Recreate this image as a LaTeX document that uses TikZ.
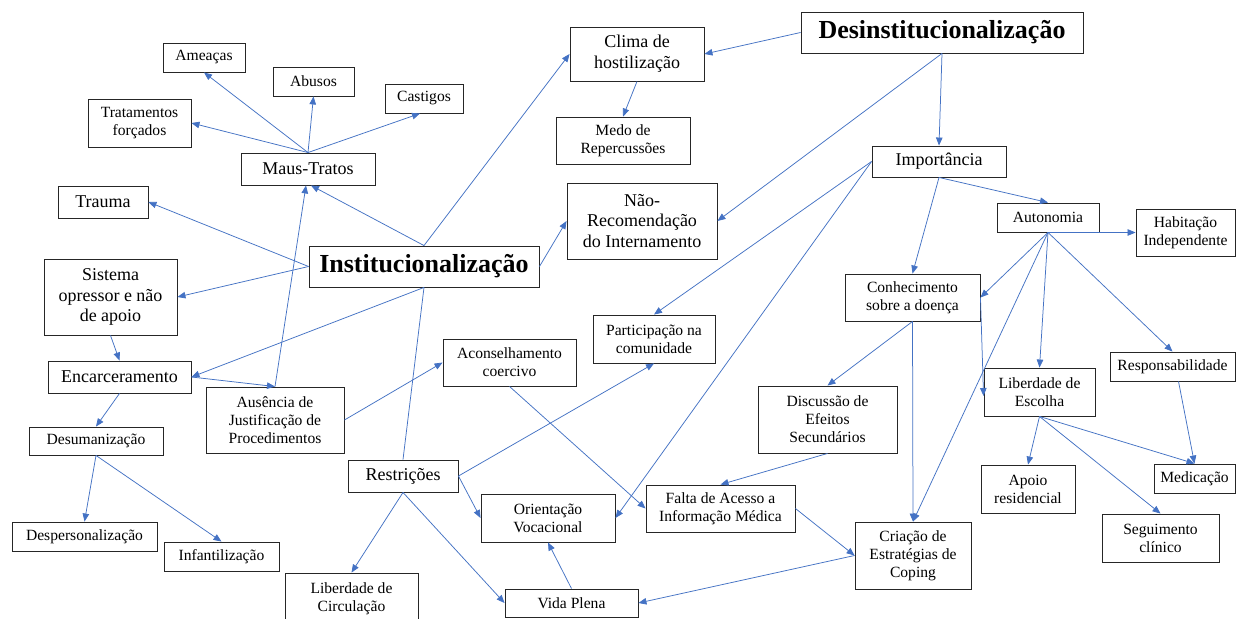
\documentclass[tikz,border=0pt]{standalone}
\usepackage{fontspec}
\setmainfont{Liberation Serif}
\usetikzlibrary{arrows.meta}
\definecolor{linkblue}{RGB}{68,114,196}
\tikzset{
  box/.style={draw=black!85, line width=0.9pt, fill=white, align=center, inner sep=2pt},
  small/.style={box, font=\fontsize{15.6}{18}\selectfont},
  medium/.style={box, font=\fontsize{18}{20.7}\selectfont},
  title/.style={box, font=\fontsize{26}{30}\selectfont\bfseries},
  link/.style={draw=linkblue, line width=0.75pt, -{Triangle[length=8pt,width=6.5pt]}},
}

\begin{document}
\begin{tikzpicture}[x=1pt, y=-1pt]
  \useasboundingbox[fill=white] (0,0) rectangle (1236,618);

  % left side: institucionalizacao
  \node[small, minimum width=82pt, minimum height=29pt] (ameacas) at (204,57.5) {Ameaças};
  \node[small, minimum width=81pt, minimum height=29pt] (abusos) at (313.5,81.5) {Abusos};
  \node[small, minimum width=78pt, minimum height=29pt] (castigos) at (424,98.5) {Castigos};
  \node[small, minimum width=103pt, minimum height=48pt] (tratamentos) at (139.5,123) {Tratamentos\\forçados};
  \node[medium, minimum width=134pt, minimum height=32pt] (maus) at (308,169) {Maus-Tratos};
  \node[medium, minimum width=90pt, minimum height=32pt] (trauma) at (103,202) {Trauma};
  \node[title, minimum width=230pt, minimum height=41pt] (inst) at (424,266.5) {Institucionalização};
  \node[medium, minimum width=133pt, minimum height=76pt] (sistema) at (110.5,297) {Sistema\\opressor e não\\de apoio};
  \node[medium, minimum width=143pt, minimum height=32pt] (encarc) at (119.5,377) {Encarceramento};
  \node[small, minimum width=138pt, minimum height=66pt] (ausencia) at (275,420) {Ausência de\\Justificação de\\Procedimentos};
  \node[small, minimum width=133pt, minimum height=47pt] (aconselh) at (509.5,362.5) {Aconselhamento\\coercivo};
  \node[small, minimum width=134pt, minimum height=28pt] (desum) at (96,441) {Desumanização};
  \node[small, minimum width=145pt, minimum height=29pt] (despers) at (84.5,536.5) {Despersonalização};
  \node[small, minimum width=115pt, minimum height=29pt] (infant) at (221.5,556.5) {Infantilização};
  \node[medium, minimum width=110pt, minimum height=32pt] (restr) at (403,476) {Restrições};
  \node[small, minimum width=133pt, minimum height=52pt] (libcirc) at (351.5,599) {Liberdade de\\Circulação};
  \node[small, minimum width=134pt, minimum height=48pt] (orient) at (548,518) {Orientação\\Vocacional};
  \node[small, minimum width=133pt, minimum height=28pt] (vida) at (571.5,603) {Vida Plena};

  % right side: desinstitucionalizacao
  \node[medium, minimum width=134pt, minimum height=54pt] (clima) at (637,54) {Clima de\\hostilização};
  \node[title, minimum width=282pt, minimum height=41pt] (desinst) at (942,32.5) {Desinstitucionalização};
  \node[small, minimum width=134pt, minimum height=47pt] (medo) at (623,140.5) {Medo de\\Repercussões};
  \node[medium, minimum width=150pt, minimum height=76pt] (naorec) at (642,221) {Não-\\Recomendação\\do Internamento};
  \node[medium, minimum width=134pt, minimum height=31pt] (import) at (939,161.5) {Importância};
  \node[small, minimum width=102pt, minimum height=29pt] (autonomia) at (1048,217.5) {Autonomia};
  \node[small, minimum width=99pt, minimum height=47pt] (habit) at (1185.5,232.5) {Habitação\\Independente};
  \node[small, minimum width=125pt, minimum height=29pt] (respons) at (1172.5,366.5) {Responsabilidade};
  \node[small, minimum width=135pt, minimum height=47pt] (conhec) at (912.5,297.5) {Conhecimento\\sobre a doença};
  \node[small, minimum width=122pt, minimum height=48pt] (particip) at (654,339) {Participação na\\comunidade};
  \node[small, minimum width=139pt, minimum height=67pt] (discuss) at (827.5,419.5) {Discussão de\\Efeitos\\Secundários};
  \node[small, minimum width=111pt, minimum height=48pt] (libesc) at (1039.5,392) {Liberdade de\\Escolha};
  \node[small, minimum width=149pt, minimum height=47pt] (falta) at (720.5,508.5) {Falta de Acesso a\\Informação Médica};
  \node[small, minimum width=116pt, minimum height=67pt] (criacao) at (913,555.5) {Criação de\\Estratégias de\\Coping};
  \node[small, minimum width=94pt, minimum height=48pt] (apoio) at (1028,489) {Apoio\\residencial};
  \node[small, minimum width=81pt, minimum height=29pt] (medic) at (1194.5,478.5) {Medicação};
  \node[small, minimum width=117pt, minimum height=48pt] (seguim) at (1160.5,538) {Seguimento\\clínico};

  % connectors
  \draw[link] (maus.north) -- (ameacas.south);
  \draw[link] (maus.north) -- (abusos.south);
  \draw[link] (maus.north) -- ([xshift=-4pt]castigos.south);
  \draw[link] (maus.north) -- (tratamentos.east);
  \draw[link] (inst.west) -- (trauma.east);
  \draw[link] (inst.north) -- ([xshift=3pt]maus.south);
  \draw[link] (inst.north) -- (clima.west);
  \draw[link] (inst.west) -- (sistema.east);
  \draw[link] (inst.east) -- (naorec.west);
  \draw[link] (inst.south) -- (encarc.east);
  \draw[linkblue, line width=0.75pt] (inst.south) -- (restr.north);
  \draw[link] (sistema.south) -- (encarc.north);
  \draw[link] (encarc.south) -- (desum.north);
  \draw[link] (desum.south) -- (despers.north);
  \draw[link] (desum.south) -- (infant.north);
  \draw[link] (encarc.east) -- (ausencia.north);
  \draw[link] (ausencia.north) -- ([xshift=-2pt]maus.south);
  \draw[link] (ausencia.east) -- (aconselh.west);
  \draw[link] (restr.east) -- (particip.south);
  \draw[link] (restr.east) -- (orient.west);
  \draw[link] (restr.south) -- (libcirc.north);
  \draw[link] (restr.south) -- (vida.west);
  \draw[link] (vida.north) -- (orient.south);
  \draw[link] (aconselh.south) -- (falta.west);
  \draw[link] (import.west) -- (particip.north);
  \draw[link] (import.west) -- (orient.east);
  \draw[link] (import.south) -- (conhec.north);
  \draw[link] (import.south) -- (autonomia.north);
  \draw[link] (desinst.west) -- (clima.east);
  \draw[link] (desinst.south) -- (import.north);
  \draw[link] (desinst.south) -- (naorec.east);
  \draw[link] (clima.south) -- (medo.north);
  \draw[link] (autonomia.south) -- (habit.west);
  \draw[link] (autonomia.south) -- (conhec.east);
  \draw[link] (autonomia.south) -- (libesc.north);
  \draw[link] (autonomia.south) -- (respons.north);
  \draw[link] (autonomia.south) -- (criacao.north);
  \draw[link] (conhec.south) -- (criacao.north);
  \draw[link] (conhec.east) -- ([yshift=-4pt]libesc.west);
  \draw[link] (conhec.south) -- (discuss.north);
  \draw[link] (discuss.south) -- (falta.north);
  \draw[link] (falta.east) -- (criacao.west);
  \draw[link] (criacao.west) -- (vida.east);
  \draw[link] (libesc.south) -- (apoio.north);
  \draw[link] (libesc.south) -- (medic.north);
  \draw[link] (libesc.south) -- (seguim.north);
  \draw[link] ([xshift=6pt]respons.south) -- (medic.north);
\end{tikzpicture}
\end{document}
